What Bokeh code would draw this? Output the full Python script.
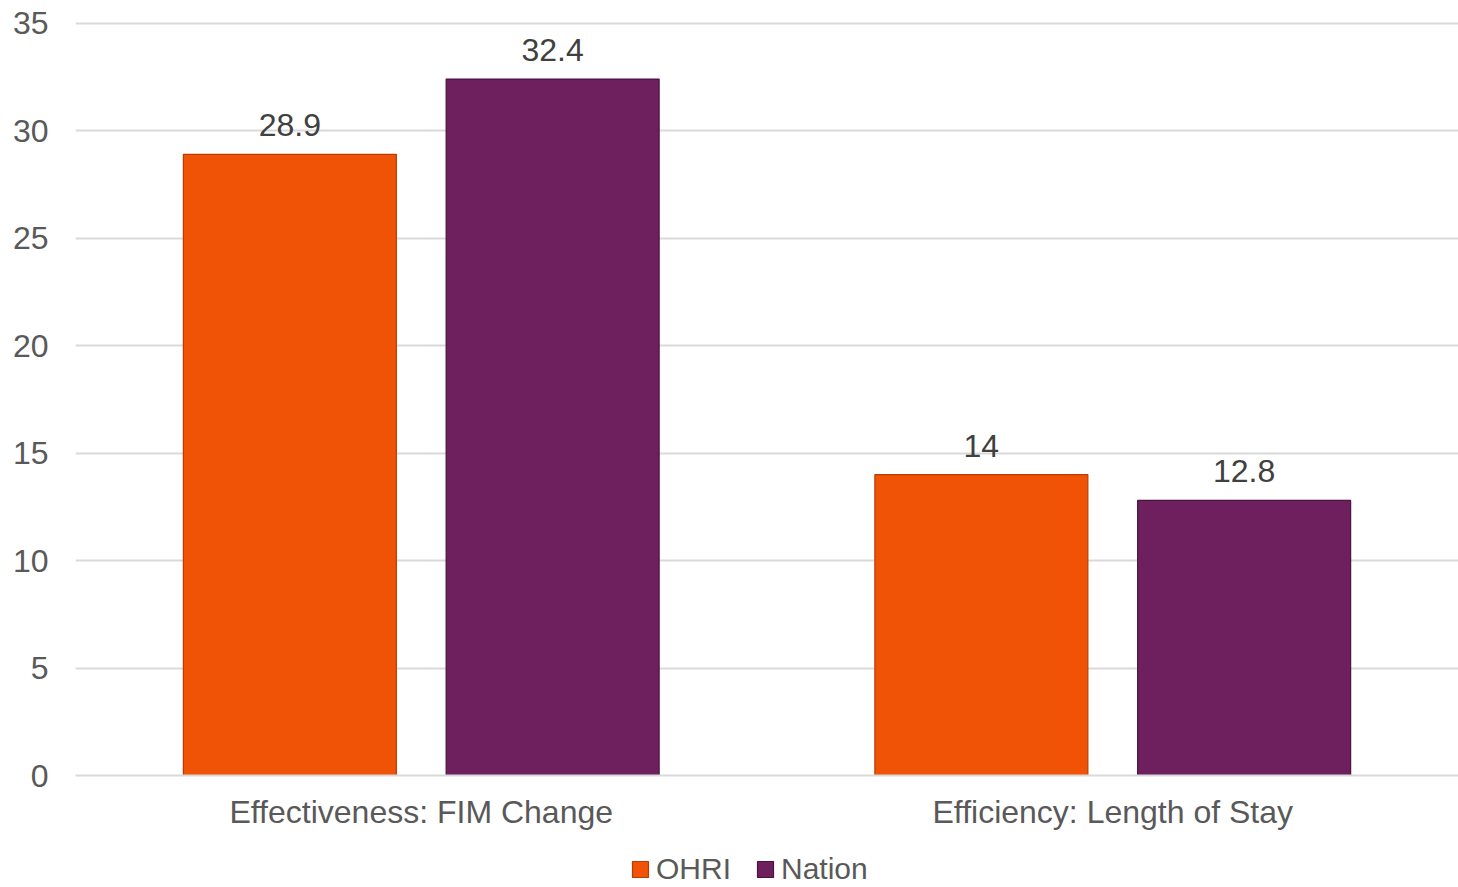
from bokeh.plotting import figure
from bokeh.layouts import column
from bokeh.models import ColumnDataSource, FactorRange, Range1d, FixedTicker, Legend, LegendItem
from bokeh.transform import dodge
from bokeh.core.properties import value
from bokeh.embed import file_html
from bokeh.resources import INLINE

categories = ["Effectiveness: FIM Change", "Efficiency: Length of Stay"]
series_names = ["OHRI", "Nation"]
ohri = [28.9, 14.0]
nation = [32.4, 12.8]
y_ticks = [0, 5, 10, 15, 20, 25, 30, 35]

FONT = "Liberation Sans"
ORANGE = "#F05206"
ORANGE_EDGE = "#B83C04"
PURPLE = "#6E1F5D"
PURPLE_EDGE = "#4A1340"

src = ColumnDataSource(dict(
    cat=categories,
    ohri=ohri,
    nation=nation,
    ohri_lbl=[f"{v:g}" for v in ohri],
    nation_lbl=[f"{v:g}" for v in nation],
))

p = figure(
    frame_width=1383, frame_height=754,
    x_range=FactorRange(factors=categories, range_padding=0),
    y_range=Range1d(0, 35.08),
    output_backend="svg", toolbar_location=None,
    min_border_left=75, min_border_right=0, min_border_top=21, min_border_bottom=74,
)
p.outline_line_color = None
p.background_fill_color = "white"
p.border_fill_color = "white"

bar_style = [dict(fill_color=ORANGE, line_color=ORANGE_EDGE, line_width=1.2),
             dict(fill_color=PURPLE, line_color=PURPLE_EDGE, line_width=1.2)]

p.vbar(x=dodge("cat", -0.19, range=p.x_range), top="ohri", width=0.308, source=src, **bar_style[0])
p.vbar(x=dodge("cat", 0.19, range=p.x_range), top="nation", width=0.308, source=src, **bar_style[1])

p.text(x=dodge("cat", -0.19, range=p.x_range), y="ohri", text="ohri_lbl", source=src,
       text_align="center", text_baseline="middle", y_offset=-29,
       text_font=value(FONT), text_font_size="32px", text_color="#404040")
p.text(x=dodge("cat", 0.19, range=p.x_range), y="nation", text="nation_lbl", source=src,
       text_align="center", text_baseline="middle", y_offset=-29,
       text_font=value(FONT), text_font_size="32px", text_color="#404040")

# axes
p.yaxis.ticker = FixedTicker(ticks=y_ticks)
p.yaxis.axis_line_color = None
p.yaxis.major_tick_line_color = None
p.yaxis.minor_tick_line_color = None
p.yaxis.major_label_text_font = FONT
p.yaxis.major_label_text_font_size = "32px"
p.yaxis.major_label_text_color = "#595959"
p.yaxis.major_label_standoff = 21

p.xaxis.axis_line_color = "#D9D9D9"
p.xaxis.axis_line_width = 2
p.xaxis.major_tick_line_color = None
p.xaxis.minor_tick_line_color = None
p.xaxis.major_label_text_font = FONT
p.xaxis.major_label_text_font_size = "32px"
p.xaxis.major_label_text_color = "#595959"
p.xaxis.major_label_standoff = 12

p.xgrid.grid_line_color = None
p.ygrid.grid_line_color = "#D9D9D9"
p.ygrid.grid_line_width = 2

# legend strip below the chart (its bars sit outside its visible y range)
lg = figure(
    frame_width=1458, frame_height=38,
    x_range=FactorRange(factors=categories, range_padding=0),
    y_range=Range1d(100, 101),
    output_backend="svg", toolbar_location=None,
    min_border_left=0, min_border_right=0, min_border_top=0, min_border_bottom=0,
)
lg.outline_line_color = None
lg.axis.visible = False
lg.grid.grid_line_color = None
l1 = lg.vbar(x=dodge("cat", -0.19, range=lg.x_range), top="ohri", width=0.308, source=src, **bar_style[0])
l2 = lg.vbar(x=dodge("cat", 0.19, range=lg.x_range), top="nation", width=0.308, source=src, **bar_style[1])

legend = Legend(items=[LegendItem(label=series_names[0], renderers=[l1]),
                       LegendItem(label=series_names[1], renderers=[l2])],
                orientation="horizontal", location=(630, 1),
                label_text_font=FONT, label_text_font_size="30px", label_text_color="#595959",
                glyph_width=20, glyph_height=20, label_standoff=6, spacing=24,
                padding=0, margin=0, border_line_color=None, background_fill_alpha=0)
lg.add_layout(legend, "center")

layout = column(p, lg, spacing=0)
open("out.html", "w").write(file_html(layout, INLINE))
